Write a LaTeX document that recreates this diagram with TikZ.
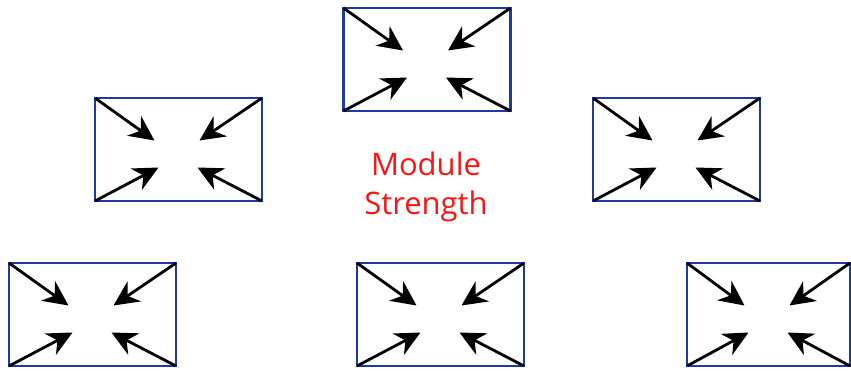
\documentclass[tikz,border=0pt]{standalone}
\usepackage{fontspec}
\setmainfont{Open Sans}
\usetikzlibrary{arrows.meta,calc}
\definecolor{boxblue}{RGB}{30,56,165}
\definecolor{labelred}{RGB}{250,20,20}
\begin{document}
\begin{tikzpicture}[x=1pt,y=-1pt,
  modbox/.style={draw=boxblue,line width=2.7pt,minimum width=167pt,minimum height=103pt,inner sep=0pt,outer sep=0pt},
  pull/.style={line width=2.8pt,-{Stealth[length=25pt,width=24pt,inset=8pt]}},
  caption/.style={text=labelred,font=\fontsize{31}{39}\selectfont,align=center}]
\useasboundingbox (0,0) rectangle (851,371);
% modules
\node[modbox] (m1) at (427,59.5) {};
\node[modbox] (m2) at (178.5,149.5) {};
\node[modbox] (m3) at (676.5,149.5) {};
\node[modbox] (m4) at (92.5,314.5) {};
\node[modbox] (m5) at (440.5,314.5) {};
\node[modbox,minimum width=163pt] (m6) at (768.5,314.5) {};
% central label
\node[caption] (txt) at (426,187) {Module\\Strength};
% four arrows pulling inward from each corner
\foreach \m in {m1,m2,m3,m4,m5,m6} {
  \coordinate (\m-nw) at ($(\m.center)+(-24,-9)$);
  \coordinate (\m-ne) at ($(\m.center)+(21,-9)$);
  \coordinate (\m-sw) at ($(\m.center)+(-20,18)$);
  \coordinate (\m-se) at ($(\m.center)+(19,18)$);
  \draw[pull] (\m.north west) -- (\m-nw);
  \draw[pull] (\m.north east) -- (\m-ne);
  \draw[pull] (\m.south west) -- (\m-sw);
  \draw[pull] (\m.south east) -- (\m-se);
}
\end{tikzpicture}
\end{document}
